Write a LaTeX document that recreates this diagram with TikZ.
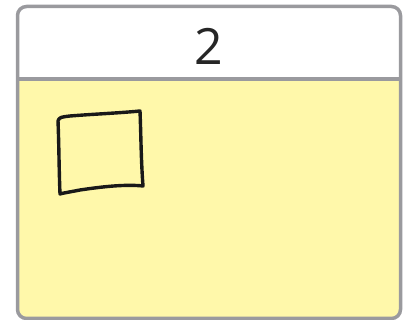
\documentclass[tikz,border=0pt]{standalone}
\usepackage{fontspec}
\setmainfont{Open Sans}
\usepackage{xcolor}
\usepackage{tikz}
\usetikzlibrary{positioning, calc}
\definecolor{cardgray}{HTML}{9A9A9E}
\definecolor{notepad}{HTML}{FFF8AA}
\tikzset{
  card/.style   ={draw=cardgray, line width=3.5pt, rounded corners=9pt},
  header/.style ={fill=white},
  sepline/.style={draw=cardgray, line width=3.5pt},
  numlbl/.style ={font=\fontsize{50}{50}\selectfont, text=black!85, inner sep=0pt},
  sketch/.style ={draw=black!90, line width=3.4pt, line join=round, line cap=round}
}
\begin{document}
\begin{tikzpicture}[x=1pt, y=1pt]
\useasboundingbox (0,0) rectangle (408,320);

% card background
\fill[notepad, rounded corners=9pt] (17.5,1.5) rectangle (400.5,313.5);
\begin{scope}
  \clip[rounded corners=9pt] (17.5,1.5) rectangle (400.5,313.5);
  \fill[header] (17.5,241) rectangle (400.5,313.5);
\end{scope}
\draw[sepline] (17.5,241) -- (400.5,241);
\draw[card] (17.5,1.5) rectangle (400.5,313.5);

\node[numlbl] (num) at (208.5,274) {2};

% hand drawn square
\draw[sketch] (58,199) .. controls (59,203) and (62,203) .. (70,204)
  .. controls (95,206) and (120,207) .. (140,209)
  .. controls (141,185) and (141,160) .. (143,134)
  .. controls (125,136) and (100,133) .. (80,130)
  .. controls (70,128) and (63,127) .. (60,126)
  .. controls (59,150) and (59,175) .. (58,199);
\end{tikzpicture}
\end{document}
